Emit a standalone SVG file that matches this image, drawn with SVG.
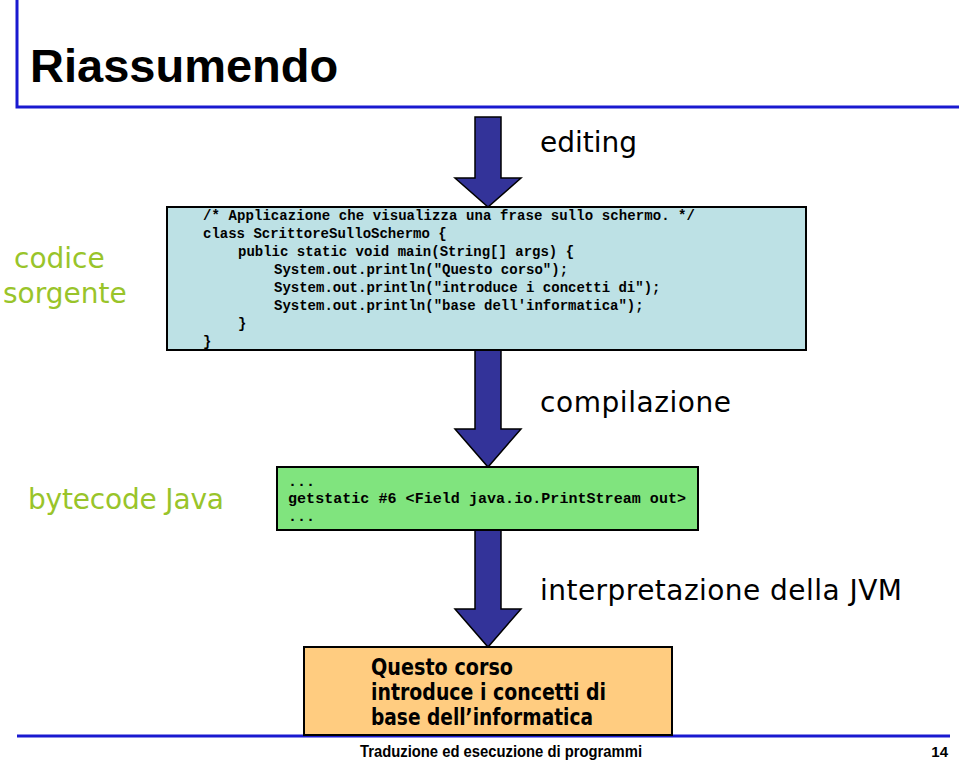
<svg xmlns="http://www.w3.org/2000/svg" width="959" height="761" viewBox="0 0 959 761">
<style>
.arrow{fill:#333399;stroke:#000;stroke-width:1.5;stroke-linejoin:miter}
.box{stroke:#000;stroke-width:2}
.code{font-family:"Liberation Mono","Courier New",monospace;font-weight:bold;font-size:14px;fill:#000}
.lbl{font-family:"DejaVu Sans","Open Sans",sans-serif;font-size:28px;fill:#000}
.grn{font-family:"DejaVu Sans","Open Sans",sans-serif;font-size:28px;fill:#99c42a}
.out{font-family:"DejaVu Sans","Open Sans",sans-serif;font-weight:bold;font-size:23px;fill:#000}
.rule{stroke:#1a1ad0;stroke-width:3;fill:none}
</style>
<rect width="959" height="761" fill="#fff"/>
<g id="frame">
<path class="rule" d="M17,0 V107 H959"/>
<line class="rule" x1="17" y1="736" x2="950" y2="736"/>
<text x="30" y="82" font-family="Liberation Sans,Arial,sans-serif" font-weight="bold" font-size="47" fill="#000">Riassumendo</text>
<text x="360" y="757" font-family="Liberation Sans,Arial,sans-serif" font-weight="bold" font-size="16" fill="#000" textLength="282" lengthAdjust="spacingAndGlyphs">Traduzione ed esecuzione di programmi</text>
<text x="948" y="757" text-anchor="end" font-family="Liberation Sans,Arial,sans-serif" font-weight="bold" font-size="15" fill="#000">14</text>
</g>
<g id="connectors">
<polygon class="arrow" points="475,117 501,117 501,178 521,178 488,207 455,178 475,178"/>
<polygon class="arrow" points="475,350 501,350 501,429 521,429 488,467 455,429 475,429"/>
<polygon class="arrow" points="475,530 501,530 501,609 521,609 488,647 455,609 475,609"/>
</g>
<g id="labels">
<text class="lbl" x="540" y="152">editing</text>
<text class="lbl" x="540" y="412" textLength="191">compilazione</text>
<text class="lbl" x="540" y="600" textLength="362">interpretazione della JVM</text>
<text class="grn" x="14" y="268">codice</text>
<text class="grn" x="3" y="303">sorgente</text>
<text class="grn" x="28" y="509" textLength="196">bytecode Java</text>
</g>
<g id="source">
<rect class="box" x="167" y="207" width="639" height="143" fill="#bde1e5"/>
<text class="code" x="203" y="220" textLength="492">/* Applicazione che visualizza una frase sullo schermo. */</text>
<text class="code" x="203" y="238">class ScrittoreSulloSchermo {</text>
<text class="code" x="238" y="256">public static void main(String[] args) {</text>
<text class="code" x="274" y="274">System.out.println("Questo corso");</text>
<text class="code" x="274" y="292">System.out.println("introduce i concetti di");</text>
<text class="code" x="274" y="310">System.out.println("base dell'informatica");</text>
<text class="code" x="238" y="328">}</text>
<text class="code" x="203" y="346">}</text>
</g>
<g id="bytecode">
<rect class="box" x="277" y="467" width="421" height="63" fill="#80e47e"/>
<text class="code" x="288" y="486" style="font-size:15px">...</text>
<text class="code" x="288" y="503" style="font-size:15px" textLength="398">getstatic #6 &lt;Field java.io.PrintStream out&gt;</text>
<text class="code" x="288" y="521" style="font-size:15px">...</text>
</g>
<g id="output">
<rect class="box" x="304" y="647" width="368" height="88" fill="#ffcc80"/>
<text class="out" x="371" y="675" textLength="142" lengthAdjust="spacingAndGlyphs">Questo corso</text>
<text class="out" x="371" y="700" textLength="235" lengthAdjust="spacingAndGlyphs">introduce i concetti di</text>
<text class="out" x="371" y="725" textLength="222" lengthAdjust="spacingAndGlyphs">base dell’informatica</text>
</g>
</svg>
